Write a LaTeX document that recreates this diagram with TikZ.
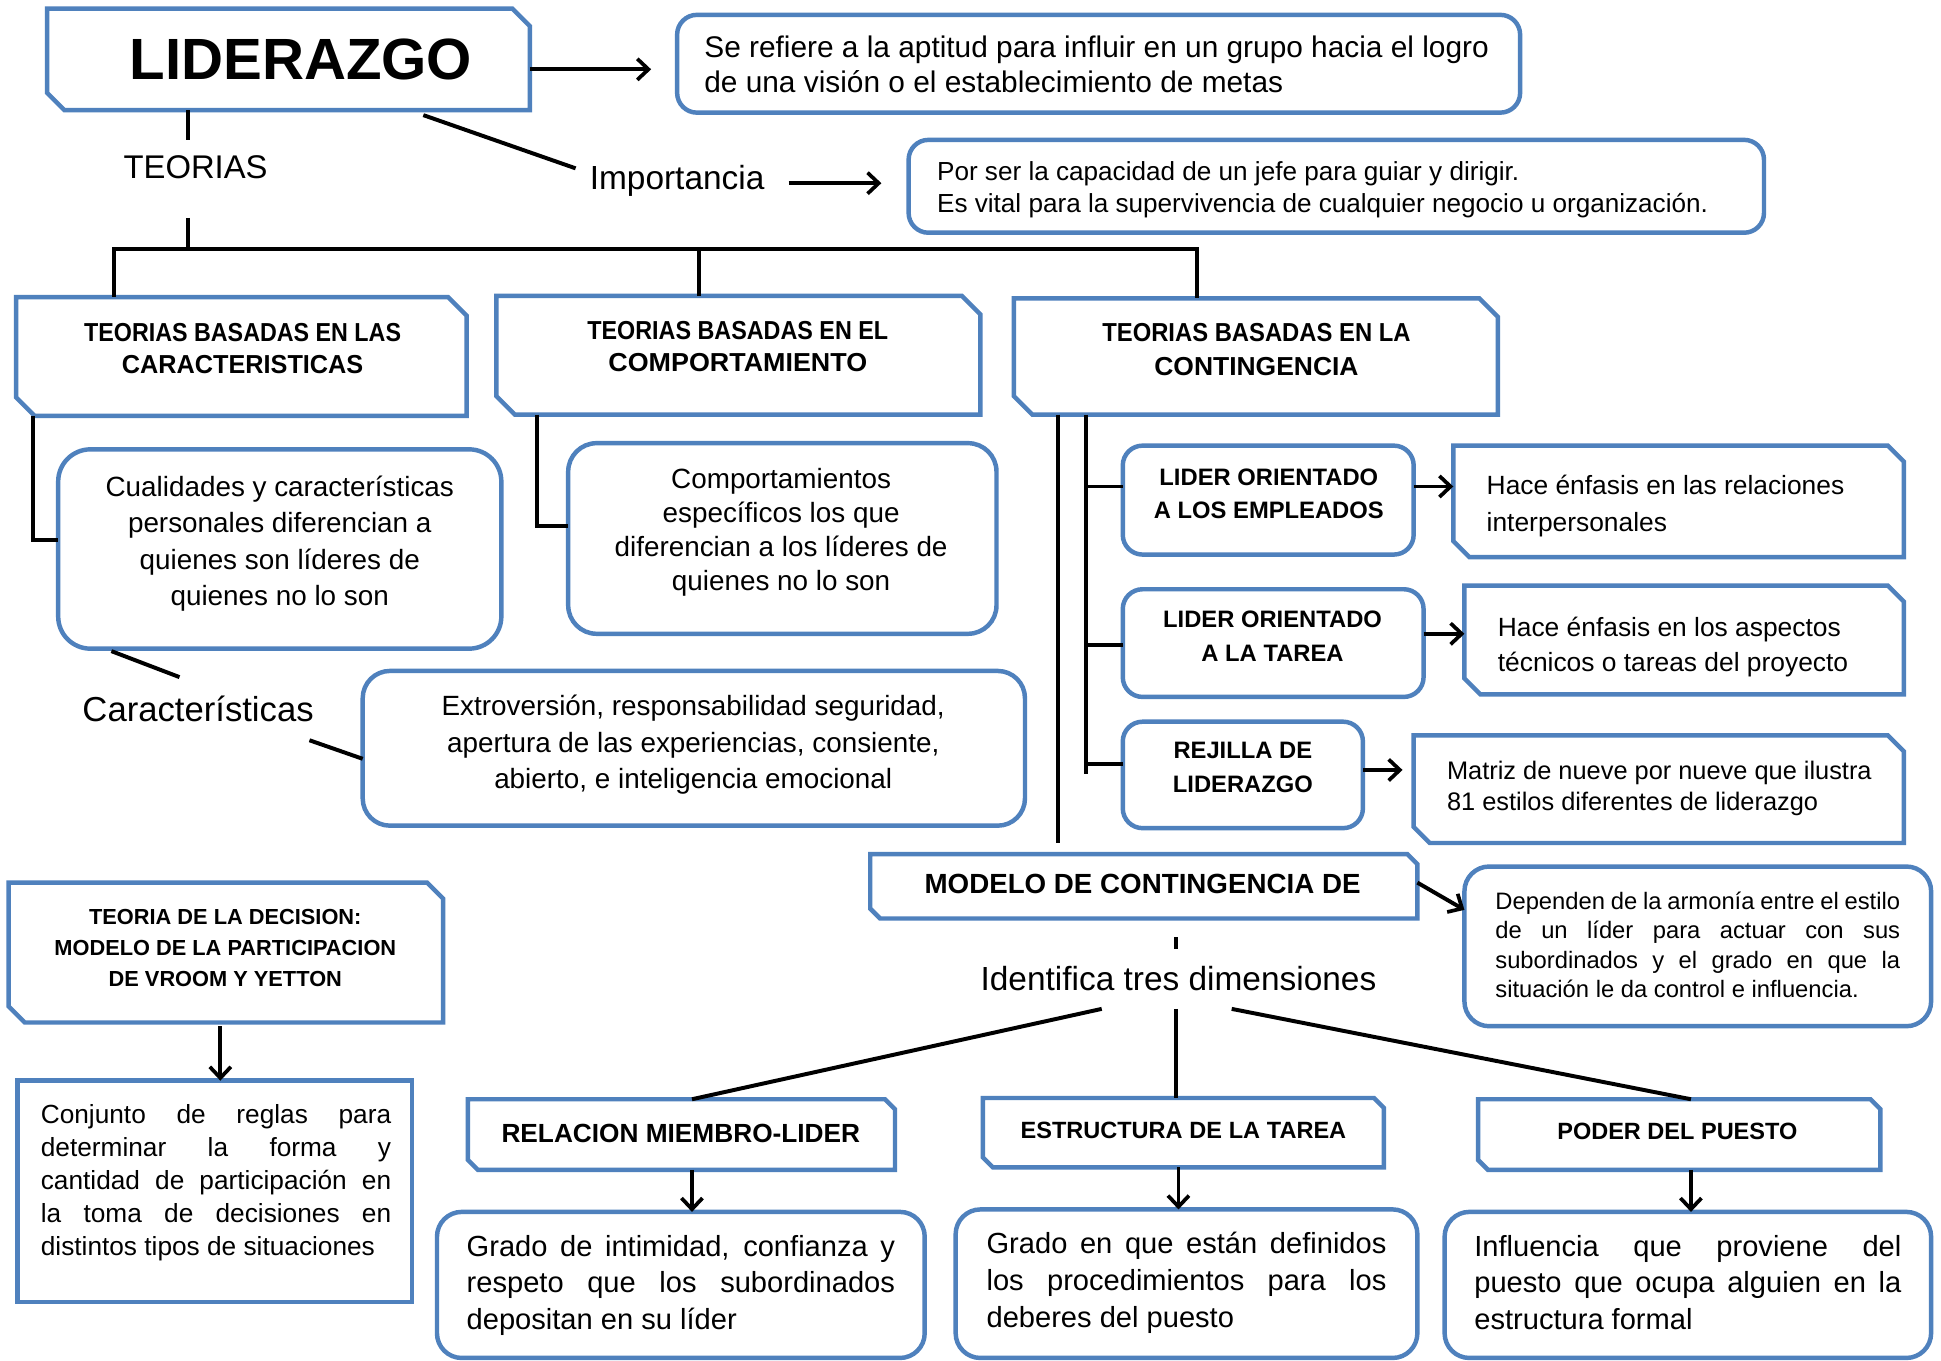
\documentclass[tikz,border=0pt]{standalone}
\usepackage{graphicx}
\usepackage{fontspec}
\setmainfont{Liberation Sans}
\usetikzlibrary{arrows.meta,fit}
\definecolor{bl}{HTML}{4F81BD}
\newcommand\fsz[2]{\fontsize{#1}{#2}\selectfont}
\newcommand\Clines[1]{\vtop{\halign{\hfil##\hfil\cr#1\crcr}}}
\newcommand\Llines[1]{\vtop{\halign{##\hfil\cr#1\crcr}}}
\newcommand\jl[2]{\makebox[#1][s]{#2}}
\newcommand\hw[2]{\resizebox{#1}{\height}{#2}}
\tikzset{
  box/.style={inner sep=0pt, outer sep=0pt},
  rbox/.style={box, draw=bl, line width=3.6pt, rounded corners=#1},
  rbox/.default=16pt,
  sbox/.style={box, append after command={\pgfextra{\let\tmpn\tikzlastnode
     \draw[draw=bl, line width=3.6pt, line join=miter]
       (\tmpn.north west) -- ([xshift=-#1]\tmpn.north east) -- ([yshift=-#1]\tmpn.north east)
       -- (\tmpn.south east) -- ([xshift=#1]\tmpn.south west) -- ([yshift=#1]\tmpn.south west) -- cycle;}}},
  sbox/.default=14pt,
  pbox/.style={box, draw=bl, line width=3.6pt},
  conn/.style={line width=3.2pt, draw=black},
  arr/.style={conn, -{Straight Barb[length=9pt,width=17pt,line width=3pt]}},
  txt/.style={inner sep=0pt, outer sep=0pt, text=black},
}
\begin{document}
\begin{tikzpicture}[x=1pt,y=-1pt]
\useasboundingbox (0,0) rectangle (1568,1099);
\fill[white] (0,0) rectangle (1568,1099);

% ---- top
\node[sbox=14pt, fit={(38,7) (428,89)}] (lid) {};
\node[txt, font=\bfseries\fsz{47}{50}] (lidt) at (243,48) {LIDERAZGO};
\node[rbox=16pt, fit={(547,12) (1228,91)}] (d1) {};
\node[txt, anchor=base west, font=\fsz{24.1}{28}] (d1t) at (569,46.4)
  {\Llines{Se refiere a la aptitud para influir en un grupo hacia el logro\cr de una visión o el establecimiento de metas}};
\draw[arr] (lid.east |- 0,56) -- (526,56);

\node[txt, font=\fsz{26.5}{30}] (teo) at (158,135) {TEORIAS};
\node[txt, anchor=base, font=\fsz{27}{30}] (imp) at (547,153) {Importancia};
\node[rbox=16pt, fit={(734,113) (1425,188)}] (d2) {};
\node[txt, anchor=base west, font=\fsz{21.1}{26}] (d2t) at (757,146)
  {\Llines{Por ser la capacidad de un jefe para guiar y dirigir.\cr Es vital para la supervivencia de cualquier negocio u organización.}};
\draw[conn] (342,93) -- (465,136);
\draw[arr] (637,148) -- (712,148);

\draw[conn] (152,0 |- lid.south) -- (152,113);
\draw[conn] (152,176) -- (152,201);
\coordinate (brL) at (92,201);
\coordinate (brM) at (565,201);
\coordinate (brR) at (967,201);

% ---- theory boxes
\node[sbox=15pt, fit={(13,240) (377,336)}] (bA) {};
\node[txt, anchor=base, font=\bfseries\fsz{21}{26}] (bAt) at (196,276)
  {\Clines{\hw{256pt}{TEORIAS BASADAS EN LAS}\cr \hw{195pt}{CARACTERISTICAS}}};
\node[sbox=15pt, fit={(401,239) (792,335)}] (bB) {};
\node[txt, anchor=base, font=\bfseries\fsz{21}{26}] (bBt) at (596,274)
  {\Clines{\hw{243pt}{TEORIAS BASADAS EN EL}\cr \hw{209pt}{COMPORTAMIENTO}}};
\node[sbox=15pt, fit={(819,241) (1210,335)}] (bC) {};
\node[txt, anchor=base, font=\bfseries\fsz{21}{27}] (bCt) at (1015,276)
  {\Clines{\hw{249pt}{TEORIAS BASADAS EN LA}\cr \hw{165pt}{CONTINGENCIA}}};

\draw[conn] (brL |- bA.north) -- (brL) -- (brR) -- (brR |- bC.north);
\draw[conn] (brM) -- (brM |- bB.north);

% ---- left column
\node[rbox=26pt, fit={(47,363) (405,524)}] (cual) {};
\node[txt, anchor=base, font=\fsz{22.5}{29.4}] (cualt) at (226,401)
  {\Clines{Cualidades y características\cr personales diferencian a\cr quienes son líderes de\cr quienes no lo son}};
\draw[conn] (27,0 |- bA.south) -- (27,436) -- (cual.west |- 0,436);

\node[rbox=23pt, fit={(459,358) (805,512)}] (comp) {};
\node[txt, anchor=base, font=\fsz{22.5}{27.4}] (compt) at (631,395)
  {\Clines{Comportamientos\cr específicos los que\cr diferencian a los líderes de\cr quienes no lo son}};
\draw[conn] (434,0 |- bB.south) -- (434,425) -- (comp.west |- 0,425);

\node[txt, anchor=base, font=\fsz{28}{32}] (car) at (160,583) {Características};
\node[rbox=22pt, fit={(293,542) (828,667)}] (ext) {};
\node[txt, anchor=base, font=\fsz{22.5}{29.5}] (extt) at (560,578)
  {\Clines{Extroversión, responsabilidad seguridad,\cr apertura de las experiencias, consiente,\cr abierto, e inteligencia emocional}};
\draw[conn] (90,526) -- (145,547);
\draw[conn] (250,598) -- (ext.west |- 0,613);

% ---- contingency column
\node[rbox=16pt, fit={(907,360) (1142,448)}] (le) {};
\node[txt, anchor=base, font=\bfseries\fsz{19.2}{27}] (let) at (1025,392)
  {\Clines{LIDER ORIENTADO\cr A LOS EMPLEADOS}};
\node[rbox=16pt, fit={(907,476) (1150,563)}] (lt) {};
\node[txt, anchor=base, font=\bfseries\fsz{19.2}{27}] (ltt) at (1028,507)
  {\Clines{LIDER ORIENTADO\cr A LA TAREA}};
\node[rbox=16pt, fit={(907,583) (1101,669)}] (rj) {};
\node[txt, anchor=base, font=\bfseries\fsz{19.2}{27}] (rjt) at (1004,613)
  {\Clines{REJILLA DE\cr LIDERAZGO}};

\node[sbox=13pt, fit={(1174,360) (1538,450)}] (h1) {};
\node[txt, anchor=base west, font=\fsz{21.3}{30}] (h1t) at (1201,399.5)
  {\Llines{Hace énfasis en las relaciones\cr interpersonales}};
\node[sbox=13pt, fit={(1183,473) (1538,561)}] (h2) {};
\node[txt, anchor=base west, font=\fsz{21.3}{28}] (h2t) at (1210,514.5)
  {\Llines{Hace énfasis en los aspectos\cr técnicos o tareas del proyecto}};
\node[sbox=13pt, fit={(1142,594) (1538,681)}] (mt) {};
\node[txt, anchor=base west, font=\fsz{20.5}{25}] (mtt) at (1169,630)
  {\Llines{Matriz de nueve por nueve que ilustra\cr 81 estilos diferentes de liderazgo}};

\draw[conn] (855,0 |- bC.south) -- (855,681);
\draw[conn] (877,0 |- bC.south) -- (877,625);
\draw[conn] (877,393) -- (le.west |- 0,393);
\draw[conn] (877,521) -- (lt.west |- 0,521);
\draw[conn] (877,617) -- (rj.west |- 0,617);
\draw[arr] (le.east |- 0,393) -- (h1.west |- 0,393);
\draw[arr] (lt.east |- 0,512) -- (h2.west |- 0,512);
\draw[arr] (rj.east |- 0,622) -- (1133,622);

% ---- modelo
\node[sbox=8pt, fit={(703,690) (1145,742)}] (mod) {};
\node[txt, font=\bfseries\fsz{22.4}{26}] (modt) at (923,714) {MODELO DE CONTINGENCIA DE};
\node[rbox=20pt, fit={(1183,700) (1560,829)}] (dep) {};
\node[txt, anchor=base west, font=\fsz{19.2}{23.5}] (dept) at (1208,735)
  {\Llines{\jl{327pt}{Dependen de la armonía entre el estilo}\cr \jl{327pt}{de un líder para actuar con sus}\cr \jl{327pt}{subordinados y el grado en que la}\cr situación le da control e influencia.}};
\draw[arr] (mod.east |- 0,713) -- (dep.west |- 0,735);

\draw[conn] (950,757) -- (950,767);
\node[txt, anchor=base, font=\fsz{27}{30}] (idt) at (952,800) {Identifica tres dimensiones};

\node[sbox=8pt, fit={(378,888) (723,945)}] (rel) {};
\node[txt, font=\bfseries\fsz{21.2}{26}] (relt) at (550,916) {RELACION MIEMBRO-LIDER};
\node[sbox=8pt, fit={(794,887) (1118,943)}] (est) {};
\node[txt, font=\bfseries\fsz{19}{26}] (estt) at (956,913) {\jl{263pt}{ESTRUCTURA DE LA TAREA}};
\node[sbox=8pt, fit={(1194,888) (1519,945)}] (pod) {};
\node[txt, font=\bfseries\fsz{19}{26}] (podt) at (1355,914) {PODER DEL PUESTO};

\draw[conn] (890,815) -- (559,0 |- rel.north);
\draw[conn] (950,815) -- (950,0 |- est.north);
\draw[conn] (995,815) -- (1366,0 |- pod.north);

\node[rbox=20pt, fit={(353,979) (747,1097)}] (g1) {};
\node[txt, anchor=base west, font=\fsz{23.5}{29.5}] (g1t) at (377,1015)
  {\Llines{\jl{346pt}{Grado de intimidad, confianza y}\cr \jl{346pt}{respeto que los subordinados}\cr depositan en su líder}};
\node[rbox=20pt, fit={(772,977) (1145,1097)}] (g2) {};
\node[txt, anchor=base west, font=\fsz{23.5}{29.5}] (g2t) at (797,1013)
  {\Llines{\jl{323pt}{Grado en que están definidos}\cr \jl{323pt}{los procedimientos para los}\cr deberes del puesto}};
\node[rbox=20pt, fit={(1167,979) (1560,1097)}] (g3) {};
\node[txt, anchor=base west, font=\fsz{23.5}{29.5}] (g3t) at (1191,1015)
  {\Llines{\jl{345pt}{Influencia que proviene del}\cr \jl{345pt}{puesto que ocupa alguien en la}\cr estructura formal}};

\draw[arr] (559,0 |- rel.south) -- (559,0 |- g1.north);
\draw[arr] (952,0 |- est.south) -- (952,0 |- g2.north);
\draw[arr] (1366,0 |- pod.south) -- (1366,0 |- g3.north);

% ---- decision
\node[sbox=13pt, fit={(7,713) (358,826)}] (dec) {};
\node[txt, anchor=base, font=\bfseries\fsz{17.6}{25}] (dect) at (182,747)
  {\Clines{TEORIA DE LA DECISION:\cr MODELO DE LA PARTICIPACION\cr DE VROOM Y YETTON}};
\node[pbox, fit={(14,873) (333,1052)}] (conj) {};
\node[txt, anchor=base west, font=\fsz{21.2}{26.7}] (conjt) at (33,907.4)
  {\Llines{\jl{283pt}{Conjunto de reglas para}\cr \jl{283pt}{determinar la forma y}\cr \jl{283pt}{cantidad de participación en}\cr \jl{283pt}{la toma de decisiones en}\cr distintos tipos de situaciones}};
\draw[arr] (178,829) -- (178,0 |- conj.north);
\end{tikzpicture}
\end{document}
